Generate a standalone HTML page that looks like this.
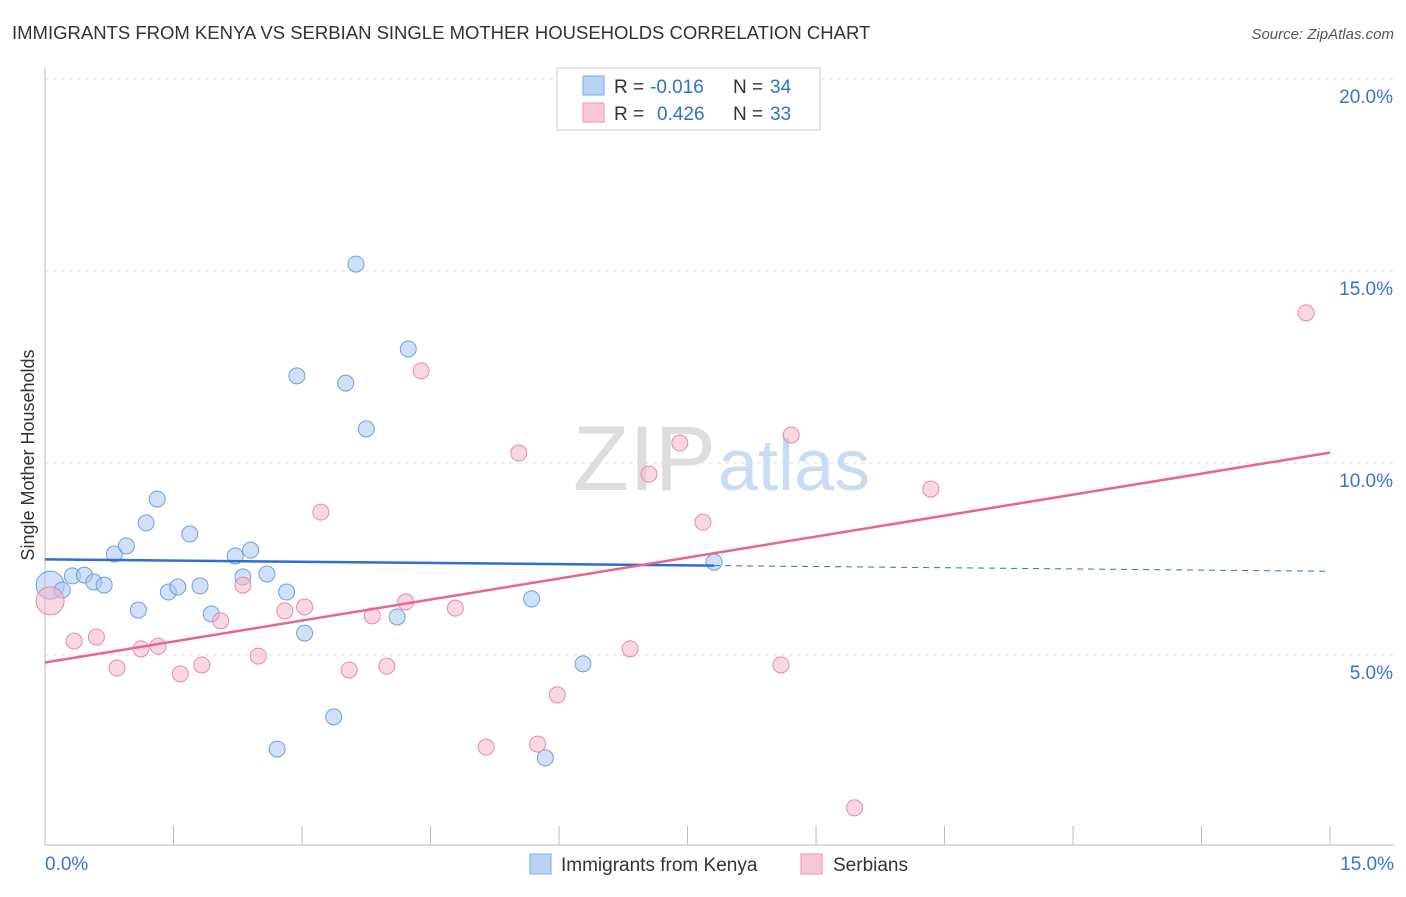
<!DOCTYPE html>
<html><head><meta charset="utf-8"><style>
body{margin:0;background:#fff;font-family:"Liberation Sans",sans-serif}
svg text{font-family:"Liberation Sans",sans-serif}
</style></head><body>
<svg id="chart" width="1406" height="892" xmlns="http://www.w3.org/2000/svg">
<text x="12" y="39" font-size="18.5" fill="#333">IMMIGRANTS FROM KENYA VS SERBIAN SINGLE MOTHER HOUSEHOLDS CORRELATION CHART</text>
<text x="1394" y="39" font-size="15" fill="#555" text-anchor="end" font-style="italic">Source: ZipAtlas.com</text>
<g id="grid"></g>
<g id="axes"></g>
<text x="716" y="490" font-size="92" fill="#ddd" text-anchor="end" font-family="Liberation Serif">ZIP</text>
<text x="718" y="490" font-size="72" fill="#c9dcf2">atlas</text>
<g id="pts"></g>
<g id="trends"></g>
<text transform="translate(34,455) rotate(-90)" font-size="18" fill="#333" text-anchor="middle">Single Mother Households</text>
<g>
<rect x="557" y="68" width="263" height="62" fill="#fff" stroke="#ccc"/>
<rect x="583" y="76" width="21" height="19" fill="#b9d3f5" stroke="#7ea9e0"/>
<text x="614" y="93" font-size="19" fill="#333">R =</text>
<text x="650" y="93" font-size="19" fill="#2f6fd0">-0.016</text>
<text x="733" y="93" font-size="19" fill="#333">N =</text>
<text x="770" y="93" font-size="19" fill="#2f6fd0">34</text>
<rect x="583" y="103" width="21" height="19" fill="#f8c8d6" stroke="#e898b0"/>
<text x="614" y="120" font-size="19" fill="#333">R =</text>
<text x="657" y="120" font-size="19" fill="#2f6fd0">0.426</text>
<text x="733" y="120" font-size="19" fill="#333">N =</text>
<text x="770" y="120" font-size="19" fill="#2f6fd0">33</text>
</g>
<g>
<rect x="530" y="854" width="21" height="20" fill="#b9d3f5" stroke="#7ea9e0"/>
<text x="561" y="871" font-size="19" fill="#333">Immigrants from Kenya</text>
<rect x="801" y="854" width="21" height="20" fill="#f8c8d6" stroke="#e898b0"/>
<text x="833" y="871" font-size="19" fill="#333">Serbians</text>
</g>
</svg>
<script>
const blueX=[0.06,0.20,0.32,0.46,0.57,0.69,0.81,0.95,1.09,1.18,1.31,1.44,1.55,1.69,1.81,1.94,2.22,2.31,2.40,2.59,2.71,2.82,2.94,3.03,3.37,3.51,3.63,3.75,4.11,4.24,5.68,5.84,6.28,7.81];
const blueY=[6.82,6.69,7.06,7.08,6.90,6.82,7.63,7.84,6.17,8.44,9.06,6.64,6.77,8.15,6.80,6.07,7.58,7.03,7.73,7.11,2.55,6.64,12.27,5.57,3.39,12.08,15.18,10.89,5.99,12.97,6.46,2.32,4.77,7.42];
const pinkX=[0.06,0.34,0.60,0.84,1.12,1.32,1.58,1.83,2.05,2.31,2.49,2.80,3.03,3.22,3.55,3.82,3.99,4.21,4.39,4.79,5.15,5.53,5.75,5.98,6.83,7.05,7.41,7.68,8.59,8.71,9.45,10.34,14.72];
const pinkY=[6.41,5.36,5.47,4.66,5.16,5.23,4.51,4.74,5.89,6.82,4.97,6.15,6.25,8.72,4.61,6.02,4.71,6.38,12.40,6.22,2.60,10.26,2.68,3.96,5.16,9.71,10.52,8.46,4.74,10.73,1.02,9.32,13.91];
const yTicks=[5,10,15,20];
const yTickLabels=["5.0%","10.0%","15.0%","20.0%"];
const xTicks=[0,1.5,3,4.5,6,7.5,9,10.5,12,13.5,15];
const NS="http://www.w3.org/2000/svg";
const sx=v=>45+v*85.67, sy=v=>847-v*38.4;
function mk(tag,attrs,parent){const e=document.createElementNS(NS,tag);for(const k in attrs)e.setAttribute(k,attrs[k]);document.getElementById(parent).appendChild(e);return e;}
yTicks.forEach((t,i)=>{
 const l=mk('line',{x1:45,x2:1394,y1:sy(t),y2:sy(t),stroke:'#ddd','stroke-dasharray':'4,4'},'grid');
 
 
 const tx=mk('text',{x:1393,y:sy(t)+24,'font-size':19,fill:'#3b74d0','text-anchor':'end'},'axes');
 tx.textContent=yTickLabels[i];
 
 
});
const ax=mk('line',{x1:45,x2:1394,y1:845,y2:845,stroke:'#bbb'},'axes');


const ay=mk('line',{x1:45,x2:45,y1:68,y2:845,stroke:'#bbb'},'axes');


xTicks.forEach(t=>{
 const l=mk('line',{x1:sx(t),x2:sx(t),y1:826,y2:845,stroke:'#bbb'},'axes');
 
 
});
const xl0=mk('text',{x:45,y:870,'font-size':19,fill:'#3b74d0'},'axes');xl0.textContent=xTicks[0].toFixed(1)+"%";


const xl1=mk('text',{x:1394,y:870,'font-size':19,fill:'#3b74d0','text-anchor':'end'},'axes');xl1.textContent=xTicks[xTicks.length-1].toFixed(1)+"%";


function dots(X,Y,fill,stroke,name){X.forEach((x,i)=>{const c=mk('circle',{cx:sx(x),cy:sy(Y[i]),r:i===0?14:8,fill:fill,'fill-opacity':0.55,stroke:stroke,'stroke-width':1},'pts');
 
 });}
dots(blueX,blueY,'#a9c8f0','#6f9fdc','kenya-point');
dots(pinkX,pinkY,'#f5b8cb','#e88aa8','serbian-point');
function reg(X,Y){const n=X.length,mx=X.reduce((a,b)=>a+b)/n,my=Y.reduce((a,b)=>a+b)/n;let sxy=0,sxx=0;X.forEach((x,i)=>{sxy+=(x-mx)*(Y[i]-my);sxx+=(x-mx)**2});const b=sxy/sxx;return[my-b*mx,b];}
const [ba,bb]=reg(blueX,blueY), [pa,pb]=reg(pinkX,pinkY);
const bmax=Math.max(...blueX);
const b1=mk('line',{x1:sx(0),y1:sy(ba),x2:sx(bmax),y2:sy(ba+bb*bmax),stroke:'#2f6fd0','stroke-width':2.5},'trends');


const b2=mk('line',{x1:sx(bmax),y1:sy(ba+bb*bmax),x2:sx(15),y2:sy(ba+bb*15),stroke:'#2f6fd0','stroke-width':1,'stroke-dasharray':'6,5'},'trends');


const p1=mk('line',{x1:sx(0),y1:sy(pa),x2:sx(15),y2:sy(pa+pb*15),stroke:'#e8658f','stroke-width':2.5},'trends');


</script>
</body></html>
